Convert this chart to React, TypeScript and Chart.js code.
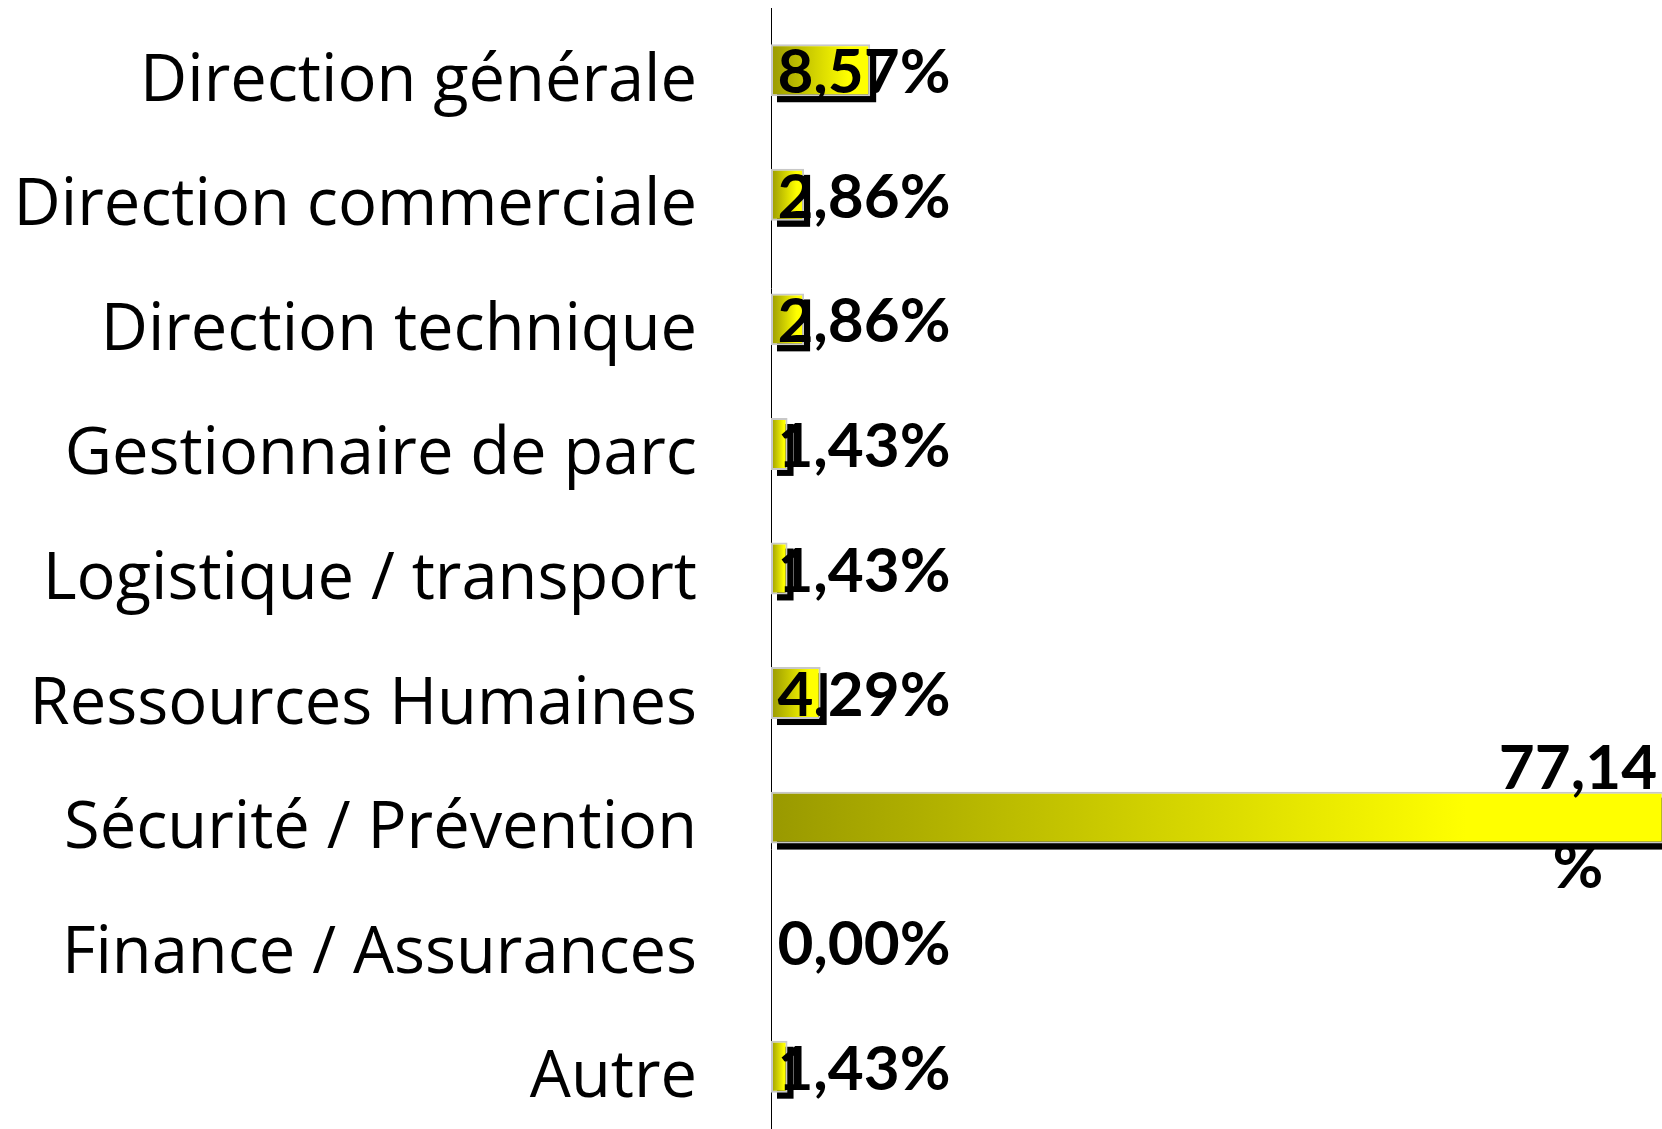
import React, { useEffect, useRef } from 'react';
import { Chart, registerables } from 'chart.js';

Chart.register(...registerables);

const categories = [
  'Direction générale',
  'Direction commerciale',
  'Direction technique',
  'Gestionnaire de parc',
  'Logistique / transport',
  'Ressources Humaines',
  'Sécurité / Prévention',
  'Finance / Assurances',
  'Autre',
];
const values = [8.57, 2.86, 2.86, 1.43, 1.43, 4.29, 77.14, 0, 1.43];
const axisMin = 0;
const axisMax = 77;

const fmt = (v: number) => v.toFixed(2).replace('.', ',') + '%';

const CAT_FONT = '"Open Sans"';
const LABEL_FONT = 'Lato';

const shadowPlugin = {
  id: 'barShadow',
  beforeDatasetDraw(chart: any, args: any) {
    const meta = chart.getDatasetMeta(args.index);
    const ctx = chart.ctx;
    ctx.save();
    ctx.fillStyle = '#000';
    meta.data.forEach((el: any, i: number) => {
      if (!values[i]) return;
      const { x, y, base, height } = el.getProps(['x', 'y', 'base', 'height'], true);
      const left = Math.min(x, base);
      const w = Math.abs(x - base);
      ctx.fillRect(left + 6, y - height / 2 + 6, w, height);
    });
    ctx.restore();
  },
};

const valueLabelPlugin = {
  id: 'valueLabels',
  afterDatasetsDraw(chart: any) {
    const meta = chart.getDatasetMeta(0);
    const ctx = chart.ctx;
    const xs = chart.scales.x;
    const x0 = xs.getPixelForValue(0);
    ctx.save();
    ctx.fillStyle = '#000';
    ctx.font = `bold 62px ${LABEL_FONT}`;
    ctx.textAlign = 'center';
    ctx.textBaseline = 'middle';
    meta.data.forEach((el: any, i: number) => {
      const { x, y } = el.getProps(['x', 'y'], true);
      const text = fmt(values[i]);
      if (x - x0 > 300) {
        const end = Math.min(x, chart.chartArea.right);
        const cx = end - 84;
        const parts = [text.slice(0, -1), '%'];
        ctx.fillText(parts[0], cx, y - 49);
        ctx.fillText(parts[1], cx, y + 50);
      } else {
        ctx.fillText(text, x0 + 93, y + 3);
      }
    });
    ctx.restore();
  },
};

export default function App() {
  const canvasRef = useRef<HTMLCanvasElement | null>(null);

  useEffect(() => {
    if (!canvasRef.current) return;
    const chart = new Chart(canvasRef.current, {
      type: 'bar',
      data: {
        labels: categories,
        datasets: [
          {
            data: values,
            backgroundColor: (c: any) => {
              const ch = c.chart;
              const xs = ch.scales && ch.scales.x;
              if (!xs || c.type !== 'data') return '#cccc00';
              const a = xs.getPixelForValue(0);
              const b = Math.min(xs.getPixelForValue(c.raw), xs.right);
              if (!isFinite(a) || !isFinite(b) || b - a < 1) return '#999900';
              const g = ch.ctx.createLinearGradient(a, 0, b, 0);
              g.addColorStop(0, '#999900');
              g.addColorStop(0.78, '#ffff00');
              g.addColorStop(1, '#ffff00');
              return g;
            },
            borderColor: '#c8c8c8',
            borderWidth: 2,
            borderSkipped: false,
            categoryPercentage: 1,
            barPercentage: 0.417,
          },
        ],
      },
      plugins: [shadowPlugin, valueLabelPlugin],
      options: {
        indexAxis: 'y',
        animation: false,
        responsive: true,
        maintainAspectRatio: false,
        layout: { padding: { top: 8, right: 0, bottom: 0, left: 0 } },
        plugins: {
          legend: { display: false },
          tooltip: { enabled: false },
        },
        scales: {
          x: {
            display: false,
            min: axisMin,
            max: axisMax,
          },
          y: {
            type: 'category',
            offset: true,
            grid: { display: false, drawTicks: false },
            border: { display: true, color: '#000', width: 1 },
            ticks: {
              color: '#000',
              font: { family: CAT_FONT, size: 65 },
              padding: 74,
              labelOffset: 12,
            },
            afterFit(scale: any) {
              scale.width = 771;
              scale.paddingTop = 0;
              scale.paddingBottom = 0;
            },
          },
        },
      },
    });
    return () => chart.destroy();
  }, []);

  return (
    <div style={{ position: 'absolute', left: 0, top: 0, width: 1662, height: 1129, background: '#fff' }}>
      <canvas ref={canvasRef} />
    </div>
  );
}
